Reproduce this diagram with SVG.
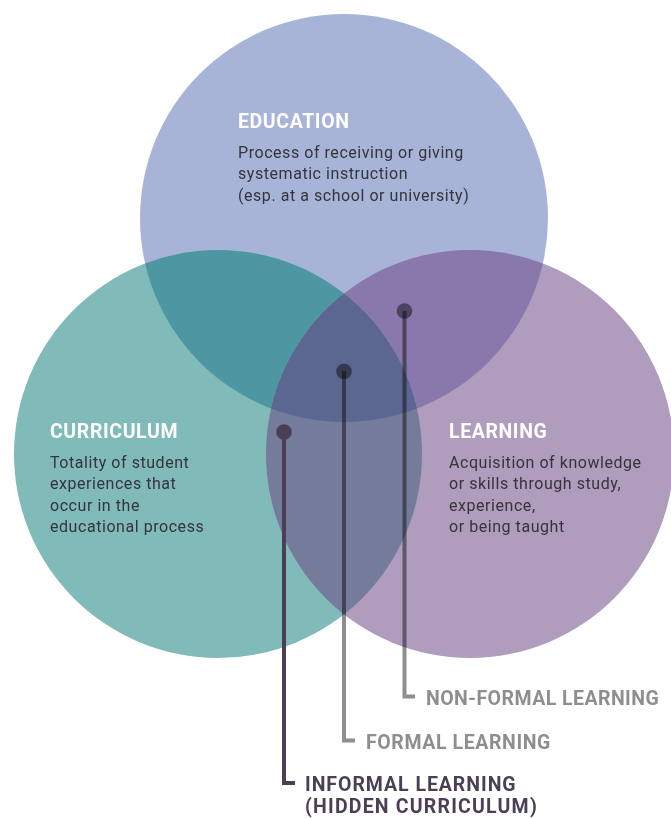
<svg xmlns="http://www.w3.org/2000/svg" width="671" height="818" viewBox="0 0 671 818">
  <style>
    .title { font-family: Roboto, "Liberation Sans", sans-serif; font-weight: 700; font-size: 19.5px; fill: #ffffff; letter-spacing: 0.6px; }
    .body { font-family: Roboto, "Liberation Sans", sans-serif; font-size: 16px; fill: #34343a; letter-spacing: 0.55px; }
    .lab { font-family: Roboto, "Liberation Sans", sans-serif; font-weight: 700; font-size: 19.5px; letter-spacing: 0.6px; }
    .gray { fill: #8e8e8e; }
    .dark { fill: #4b3f57; }
    .lead { fill: none; stroke-width: 4; }
    .lead-gray { stroke: #8e8e8e; mix-blend-mode: multiply; }
    .lead-dark { stroke: #4b3f57; }
  </style>
  <defs>
    <clipPath id="clipE"><circle cx="344" cy="218" r="204"/></clipPath>
    <clipPath id="clipC"><circle cx="218" cy="454" r="204"/></clipPath>
    <clipPath id="clipL"><circle cx="470" cy="454" r="204"/></clipPath>
  </defs>

  <rect width="671" height="818" fill="#ffffff"/>

  <!-- Venn circles -->
  <g id="venn">
    <circle id="education-circle" cx="344" cy="218" r="204" fill="#a7b4d8"/>
    <circle id="curriculum-circle" cx="218" cy="454" r="204" fill="#80bab9"/>
    <circle id="learning-circle" cx="470" cy="454" r="204" fill="#b09cbd"/>
    <!-- pairwise overlaps -->
    <circle cx="218" cy="454" r="204" fill="#4f96a3" clip-path="url(#clipE)"/>
    <circle cx="470" cy="454" r="204" fill="#8878ac" clip-path="url(#clipE)"/>
    <circle cx="470" cy="454" r="204" fill="#757b9a" clip-path="url(#clipC)"/>
    <!-- triple overlap -->
    <g clip-path="url(#clipE)">
      <circle cx="470" cy="454" r="204" fill="#5b6691" clip-path="url(#clipC)"/>
    </g>
  </g>

  <g id="education">
    <text class="title" x="238" y="127.5">EDUCATION</text>
    <text class="body" x="238" y="157.5">Process of receiving or giving</text>
    <text class="body" x="238" y="179">systematic instruction</text>
    <text class="body" x="238" y="200.5">(esp. at a school or university)</text>
  </g>

  <g id="curriculum">
    <text class="title" x="50" y="437.5">CURRICULUM</text>
    <text class="body" x="50" y="467.5">Totality of student</text>
    <text class="body" x="50" y="489">experiences that</text>
    <text class="body" x="50" y="510.5">occur in the</text>
    <text class="body" x="50" y="532">educational process</text>
  </g>

  <g id="learning">
    <text class="title" x="449" y="437.5">LEARNING</text>
    <text class="body" x="449" y="467.5">Acquisition of knowledge</text>
    <text class="body" x="449" y="489">or skills through study,</text>
    <text class="body" x="449" y="510.5">experience,</text>
    <text class="body" x="449" y="532">or being taught</text>
  </g>

  <!-- leader lines from the overlap markers to their labels -->
  <g id="connectors">
    <path class="lead lead-gray" d="M404.5 311 V696.5 H415"/>
    <path class="lead lead-gray" d="M344 371 V740.5 H355"/>
    <path class="lead lead-dark" d="M284 432 V783 H295"/>
    <circle cx="404.5" cy="311" r="7.8" fill="#8e8e8e" style="mix-blend-mode:multiply"/>
    <circle cx="344" cy="371.5" r="7.8" fill="#8e8e8e" style="mix-blend-mode:multiply"/>
    <circle cx="284" cy="432" r="7.8" fill="#4b3f57"/>
  </g>

  <g id="non-formal-learning">
    <text class="lab gray" x="426" y="705" style="letter-spacing:0.45px">NON-FORMAL LEARNING</text>
  </g>
  <g id="formal-learning">
    <text class="lab gray" x="366" y="748.5">FORMAL LEARNING</text>
  </g>
  <g id="informal-learning">
    <text class="lab dark" x="305" y="790.5" style="letter-spacing:0.95px">INFORMAL LEARNING</text>
    <text class="lab dark" x="305" y="813" style="letter-spacing:1.2px">(HIDDEN CURRICULUM)</text>
  </g>
</svg>
